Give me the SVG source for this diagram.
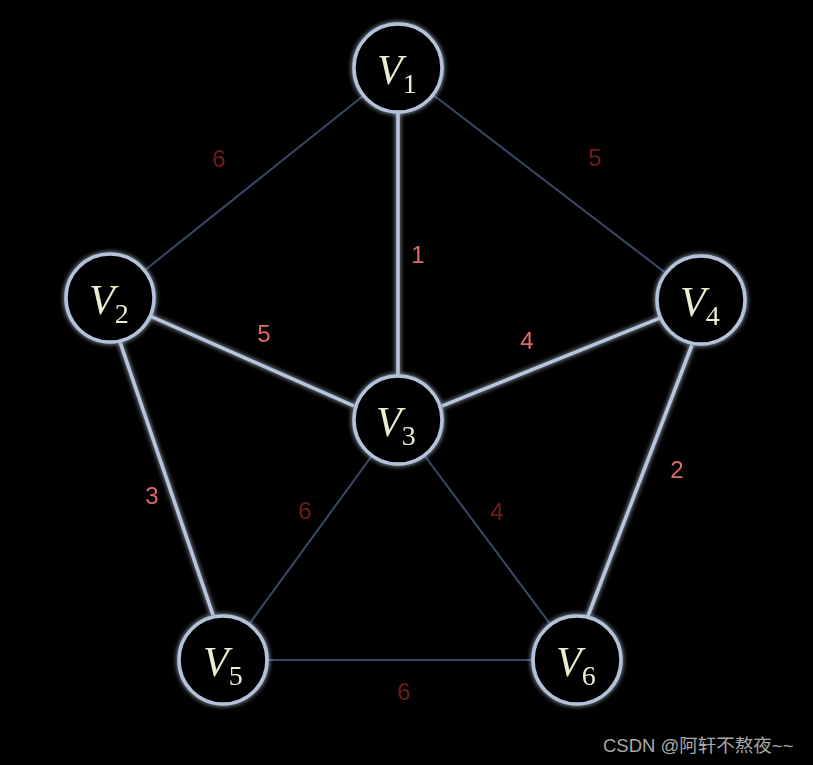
<svg xmlns="http://www.w3.org/2000/svg" width="813" height="765" viewBox="0 0 813 765">
<defs>
<filter id="glow" filterUnits="userSpaceOnUse" x="0" y="0" width="813" height="765">
<feGaussianBlur in="SourceGraphic" stdDeviation="2.5" result="b"/>
<feMerge><feMergeNode in="b"/><feMergeNode in="SourceGraphic"/></feMerge>
</filter>
<filter id="soft"><feGaussianBlur stdDeviation="0.6"/></filter>
</defs>
<style>
.node circle{fill:#000;stroke:#b4c2da;stroke-width:3.5;filter:url(#glow)}
.thick{stroke:#b8c6dc;stroke-width:3.5;fill:none;filter:url(#glow)}
.thin{stroke:#3a4868;stroke-width:2;fill:none}
.lbl{font-family:"Liberation Serif",serif;font-style:italic;font-size:42px;fill:#ececd0;filter:url(#soft)}
.sub{font-family:"Liberation Serif",serif;font-style:normal;font-size:28px}
.w1{font-family:"Liberation Sans",Arial,sans-serif;font-size:24px;fill:#e06a6a;text-anchor:middle;filter:url(#soft)}
.w2{font-family:"Liberation Sans",Arial,sans-serif;font-size:24px;fill:#6e1c1c;text-anchor:middle;filter:url(#soft)}
.wm{font-family:"Liberation Sans","Noto Sans CJK SC",sans-serif;font-size:18.5px;fill:#a8a8a8}
</style>
<rect width="813" height="765" fill="#000"/>
<g id="edges">
<line class="thin" x1="398" y1="68" x2="110" y2="298"/>
<line class="thin" x1="398" y1="68" x2="701" y2="300"/>
<line class="thin" x1="398" y1="420" x2="223" y2="660"/>
<line class="thin" x1="398" y1="420" x2="577" y2="660"/>
<line class="thin" x1="223" y1="660" x2="577" y2="660"/>
<line class="thick" x1="398" y1="110" x2="398" y2="375"/>
<line class="thick" x1="150" y1="316" x2="354" y2="406"/>
<line class="thick" x1="442" y1="406" x2="660" y2="318"/>
<line class="thick" x1="120" y1="342" x2="213" y2="615"/>
<line class="thick" x1="692" y1="345" x2="588" y2="616"/>
</g>
<g id="weights">
<text class="w2" x="219" y="167">6</text>
<text class="w2" x="595" y="166">5</text>
<text class="w1" x="418" y="263">1</text>
<text class="w1" x="264" y="342">5</text>
<text class="w1" x="527" y="349">4</text>
<text class="w1" x="152" y="504">3</text>
<text class="w2" x="305" y="519">6</text>
<text class="w2" x="497" y="520">4</text>
<text class="w1" x="677" y="478">2</text>
<text class="w2" x="404" y="700">6</text>
</g>
<g id="v1" class="node"><circle cx="398" cy="68" r="44"/><text class="lbl" x="377" y="84">V<tspan class="sub" dy="9">1</tspan></text></g>
<g id="v2" class="node"><circle cx="110" cy="298" r="44"/><text class="lbl" x="89" y="314">V<tspan class="sub" dy="9">2</tspan></text></g>
<g id="v3" class="node"><circle cx="398" cy="420" r="44"/><text class="lbl" x="376" y="436">V<tspan class="sub" dy="9">3</tspan></text></g>
<g id="v4" class="node"><circle cx="701" cy="300" r="44"/><text class="lbl" x="680" y="316">V<tspan class="sub" dy="9">4</tspan></text></g>
<g id="v5" class="node"><circle cx="223" cy="660" r="44"/><text class="lbl" x="203" y="676">V<tspan class="sub" dy="9">5</tspan></text></g>
<g id="v6" class="node"><circle cx="577" cy="660" r="44"/><text class="lbl" x="556" y="676">V<tspan class="sub" dy="9">6</tspan></text></g>
<text class="wm" x="603" y="752">CSDN @阿轩不熬夜~~</text>
</svg>
